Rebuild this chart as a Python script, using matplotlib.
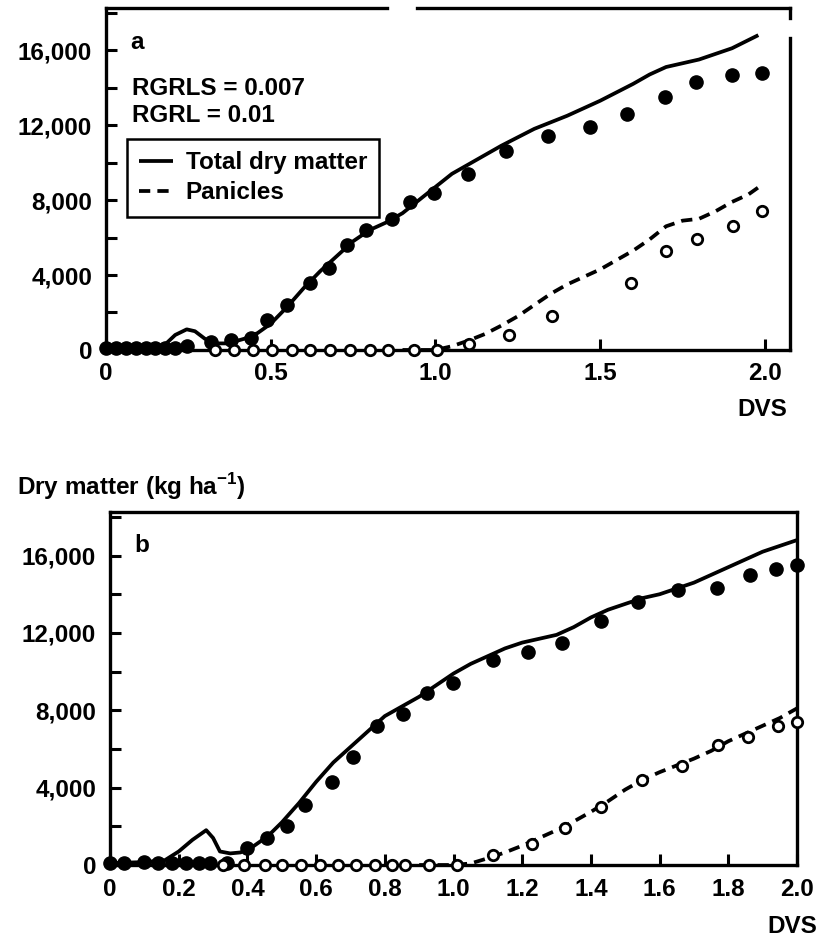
import matplotlib
matplotlib.use("Agg")
import matplotlib.pyplot as plt
from matplotlib.ticker import FuncFormatter, MultipleLocator

plt.rcParams['font.family'] = ['Liberation Sans', 'DejaVu Sans']
plt.rcParams['font.weight'] = 'bold'
plt.rcParams['mathtext.fontset'] = 'custom'
plt.rcParams['mathtext.rm'] = 'Liberation Sans:bold'

# ---- panel a (RGRLS = 0.007, RGRL = 0.01) ----
a_sim_dvs = [0, 0.05, 0.1, 0.15, 0.18, 0.21, 0.245, 0.27, 0.3, 0.33, 0.37, 0.42, 0.46, 0.5,
             0.55, 0.6, 0.65, 0.7, 0.75, 0.8, 0.85, 0.9, 0.95, 1.0, 1.05, 1.1, 1.15, 1.2,
             1.3, 1.4, 1.5, 1.6, 1.65, 1.7, 1.75, 1.8, 1.9, 1.98]
a_sim_total = [0, 50, 80, 150, 300, 800, 1100, 1000, 600, 350, 350, 600, 900, 1400,
               2300, 3300, 4200, 5000, 5800, 6400, 6800, 7300, 8000, 8700, 9400, 9900, 10400, 10900,
               11800, 12500, 13300, 14200, 14700, 15100, 15300, 15500, 16100, 16800]
a_sim_pan_dvs = [0.9, 1.0, 1.05, 1.1, 1.15, 1.2, 1.25, 1.3, 1.35, 1.4, 1.45, 1.5, 1.55, 1.6,
                 1.65, 1.7, 1.75, 1.8, 1.85, 1.9, 1.95, 1.99]
a_sim_pan = [0, 0, 200, 500, 850, 1300, 1800, 2400, 3000, 3500, 3900, 4300, 4800, 5300,
             5900, 6600, 6900, 7000, 7400, 7900, 8300, 8800]

a_obs_dvs = [0.0, 0.03, 0.06, 0.09, 0.12, 0.15, 0.18, 0.21, 0.245, 0.32, 0.38, 0.44, 0.49,
             0.55, 0.62, 0.676, 0.733, 0.79, 0.867, 0.924, 0.997, 1.10, 1.215, 1.342, 1.47,
             1.58, 1.697, 1.79, 1.90, 1.99]
a_obs_total = [100, 100, 100, 100, 100, 100, 100, 100, 200, 450, 550, 650, 1600,
               2400, 3600, 4400, 5600, 6400, 7000, 7900, 8400, 9400, 10600, 11400, 11900,
               12600, 13500, 14300, 14700, 14800]
a_obs_pan_dvs = [0.33, 0.39, 0.445, 0.505, 0.565, 0.62, 0.68, 0.74, 0.80, 0.855, 0.935, 1.005,
                 1.103, 1.224, 1.355, 1.594, 1.70, 1.794, 1.903, 1.99]
a_obs_pan = [0, 0, 0, 0, 0, 0, 0, 0, 0, 0, 0, 0,
             300, 800, 1800, 3600, 5300, 5900, 6600, 7400]

# ---- panel b ----
b_sim_dvs = [0, 0.1, 0.16, 0.2, 0.24, 0.28, 0.3, 0.32, 0.35, 0.38, 0.42, 0.46, 0.5, 0.55,
             0.6, 0.65, 0.7, 0.75, 0.8, 0.85, 0.9, 0.95, 1.0, 1.05, 1.1, 1.15, 1.2, 1.25,
             1.3, 1.35, 1.4, 1.45, 1.5, 1.55, 1.6, 1.65, 1.7, 1.75, 1.8, 1.85, 1.9, 1.95, 2.0]
b_sim_total = [100, 150, 250, 700, 1300, 1800, 1400, 700, 600, 650, 1000, 1500, 2200, 3200,
               4300, 5300, 6100, 6900, 7700, 8200, 8700, 9300, 9900, 10400, 10800, 11200, 11500, 11700,
               11900, 12300, 12800, 13200, 13500, 13800, 14000, 14300, 14600, 15000, 15400, 15800,
               16200, 16500, 16800]
b_sim_pan_dvs = [0.9, 1.0, 1.05, 1.1, 1.15, 1.2, 1.25, 1.3, 1.35, 1.4, 1.45, 1.5, 1.55, 1.6,
                 1.65, 1.7, 1.75, 1.8, 1.85, 1.9, 1.95, 2.0]
b_sim_pan = [0, 0, 80, 350, 650, 1000, 1400, 1800, 2250, 2750, 3300, 3900, 4400, 4800,
             5150, 5500, 5900, 6400, 6800, 7200, 7600, 8100]

b_obs_dvs = [0.0, 0.04, 0.1, 0.14, 0.18, 0.22, 0.26, 0.29, 0.34, 0.399, 0.456, 0.515,
             0.568, 0.646, 0.708, 0.776, 0.853, 0.922, 0.998, 1.115, 1.217, 1.315, 1.43,
             1.537, 1.653, 1.766, 1.863, 1.94, 2.0]
b_obs_total = [100, 100, 150, 100, 100, 100, 100, 100, 100, 900, 1400, 2000,
               3100, 4300, 5600, 7200, 7800, 8900, 9400, 10600, 11000, 11500, 12600,
               13600, 14200, 14300, 15000, 15300, 15500]
b_obs_pan_dvs = [0.33, 0.39, 0.45, 0.5, 0.555, 0.61, 0.665, 0.715, 0.77, 0.82, 0.86, 0.93, 1.01,
                 1.115, 1.228, 1.325, 1.43, 1.55, 1.665, 1.77, 1.857, 1.945, 2.0]
b_obs_pan = [0, 0, 0, 0, 0, 0, 0, 0, 0, 0, 0, 0, 0,
             500, 1100, 1900, 3000, 4400, 5100, 6200, 6600, 7200, 7400]

FS = 17.5
LW = 2.7


def thousands(v, pos):
    return "{:,}".format(int(v))


def style_axis(ax, xmax, xstep, xfmt):
    ax.set_xlim(0, xmax)
    ax.set_ylim(0, 18250)
    ax.xaxis.set_major_locator(MultipleLocator(xstep))
    ax.xaxis.set_major_formatter(FuncFormatter(xfmt))
    ax.yaxis.set_major_locator(MultipleLocator(4000))
    ax.yaxis.set_minor_locator(MultipleLocator(2000))
    ax.yaxis.set_major_formatter(FuncFormatter(thousands))
    ax.tick_params(axis='both', which='both', direction='in', width=2.2, length=8,
                   labelsize=FS, top=False, right=False)
    ax.tick_params(axis='y', which='both', pad=10)
    ax.tick_params(axis='x', which='major', pad=9)
    for s in ax.spines.values():
        s.set_linewidth(2.4)


def draw(ax, sim_x, sim_y, pan_x, pan_y, obs_x, obs_y, obsp_x, obsp_y):
    l1, = ax.plot(sim_x, sim_y, color='black', lw=LW, solid_capstyle='butt', zorder=2,
                  label='Total dry matter')
    l2, = ax.plot(pan_x, pan_y, color='black', lw=LW, dashes=(3.0, 1.9), zorder=2,
                  label='Panicles')
    ax.plot(obs_x, obs_y, 'o', color='black', ms=9.5, clip_on=False, zorder=3)
    ax.plot(obsp_x, obsp_y, 'o', mfc='white', mec='black', ms=7.5, mew=2.0, clip_on=False, zorder=3)
    return l1, l2


fig = plt.figure(figsize=(8.21, 9.39), dpi=100)

# panel a
ax1 = fig.add_axes([0.1291, 0.6273, 0.8331, 0.3642])
l1, l2 = draw(ax1, a_sim_dvs, a_sim_total, a_sim_pan_dvs, a_sim_pan,
              a_obs_dvs, a_obs_total, a_obs_pan_dvs, a_obs_pan)
style_axis(ax1, 2.076, 0.5, lambda v, p: "0" if v == 0 else "%.1f" % v)
# the scanned frame has a break in the top and right border
ax1.spines['top'].set_visible(False)
ax1.spines['right'].set_visible(False)
kw = dict(transform=ax1.transAxes, color='black', lw=2.4, clip_on=False, solid_capstyle='projecting')
ax1.plot([0, 0.411], [1, 1], **kw)
ax1.plot([0.455, 1], [1, 1], **kw)
ax1.plot([1, 1], [1, 0.971], **kw)
ax1.plot([1, 1], [0.912, 0], **kw)
ax1.text(0.036, 0.90, "a", transform=ax1.transAxes, fontsize=FS, va='center', ha='left')
ax1.text(0.038, 0.766, "RGRLS = 0.007", transform=ax1.transAxes, fontsize=FS, va='center')
ax1.text(0.038, 0.687, "RGRL = 0.01", transform=ax1.transAxes, fontsize=FS, va='center')
leg = ax1.legend(handles=[l1, l2], loc='upper left', bbox_to_anchor=(0.031, 0.617),
                 borderaxespad=0, fontsize=FS, frameon=True, fancybox=False,
                 edgecolor='black', framealpha=1, handlelength=1.4, handletextpad=0.5,
                 labelspacing=0.3, borderpad=0.5)
leg.get_frame().set_linewidth(1.8)

# panel b
ax2 = fig.add_axes([0.134, 0.0788, 0.8368, 0.3759])
draw(ax2, b_sim_dvs, b_sim_total, b_sim_pan_dvs, b_sim_pan,
     b_obs_dvs, b_obs_total, b_obs_pan_dvs, b_obs_pan)
style_axis(ax2, 2.0, 0.2, lambda v, p: "0" if abs(v) < 1e-9 else "%.1f" % v)
ax2.text(0.036, 0.906, "b", transform=ax2.transAxes, fontsize=FS, va='center', ha='left')

fig.text(0.9586, 0.5634, "DVS", fontsize=FS, ha='right', va='center')
fig.text(0.995, 0.0138, "DVS", fontsize=FS, ha='right', va='center')
fig.text(0.021, 0.4814, r"Dry matter (kg ha$^{\mathrm{-1}}$)", fontsize=FS,
         ha='left', va='center')

fig.savefig("out.png", dpi=100)
